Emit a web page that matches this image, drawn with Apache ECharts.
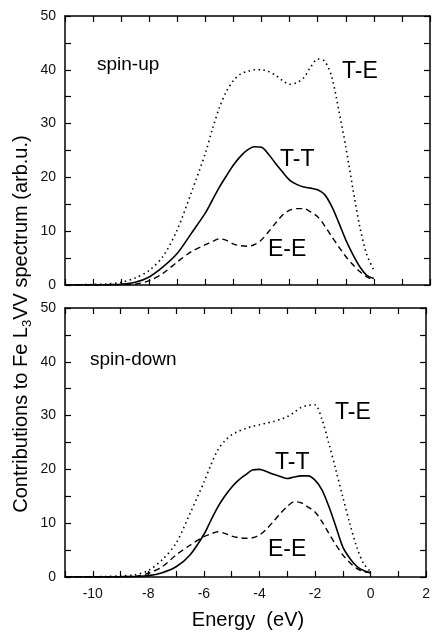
<!DOCTYPE html>
<html>
<head>
<meta charset="utf-8">
<script src="https://cdn.jsdelivr.net/npm/echarts@6/dist/echarts.min.js"></script>
<style>
  html, body { margin: 0; padding: 0; background: #fff; }
  #root { width: 433px; height: 635px; }
</style>
</head>
<body>
<div id="root"></div>
<script>
// energy grid (eV), shared by all curves
const energy = [-11, -10, -9.5, -9, -8.5, -8, -7.5, -7, -6.5, -6, -5.75, -5.5, -5.25, -5, -4.75, -4.5, -4.25,
  -4, -3.75, -3.5, -3.25, -3, -2.75, -2.5, -2.25, -2, -1.75, -1.5, -1.25, -1, -0.75, -0.5, -0.25, 0]

// spin-up panel
const upTE = [0, 0.1, 0.2, 0.5, 1.3, 2.7, 5.4, 10.3, 17.2, 24.5, 29.0, 33.0, 36.0, 38.0, 39.2, 39.7, 40.0,
  40.0, 39.7, 39.0, 38.0, 37.3, 37.6, 38.5, 40.5, 42.0, 41.6, 38.7, 32.5, 25.7, 18.0, 10.8, 5.6, 2.8]
const upTT = [0, 0, 0.05, 0.15, 0.5, 1.5, 3.4, 5.9, 9.6, 13.4, 15.8, 18.2, 20.3, 22.3, 23.9, 25.1, 25.7,
  25.6, 24.3, 22.6, 21.0, 19.5, 18.7, 18.2, 18.0, 17.7, 16.8, 14.6, 11.6, 8.4, 5.7, 3.4, 1.8, 1.2]
const upEE = [0, 0, 0, 0.05, 0.15, 0.8, 2.2, 4.3, 6.2, 7.5, 8.1, 8.6, 8.3, 7.6, 7.3, 7.2, 7.5,
  8.4, 9.9, 11.5, 13.0, 13.9, 14.2, 14.2, 13.6, 12.7, 11.0, 9.0, 7.1, 5.3, 3.8, 2.5, 1.5, 0.9]

// spin-down panel
const downTE = [0, 0.05, 0.1, 0.2, 0.4, 1.2, 3.2, 6.3, 11.8, 17.6, 20.8, 23.6, 25.3, 26.4, 27.1, 27.6, 28.0,
  28.3, 28.6, 28.9, 29.3, 29.8, 30.6, 31.5, 31.9, 32.0, 29.3, 24.8, 19.9, 14.9, 10.0, 5.6, 2.5, 1.0]
const downTT = [0, 0, 0, 0.05, 0.1, 0.25, 0.8, 1.9, 4.1, 7.9, 10.5, 13.0, 15.0, 16.7, 18.0, 19.0, 19.9,
  20.0, 19.6, 19.1, 18.7, 18.3, 18.6, 18.8, 18.8, 18.0, 16.2, 13.1, 9.4, 5.6, 3.5, 2.0, 1.2, 0.8]
const downEE = [0, 0, 0, 0.02, 0.1, 0.7, 1.9, 4.1, 5.9, 7.5, 8.0, 8.4, 8.1, 7.6, 7.3, 7.2, 7.3,
  7.8, 8.9, 10.3, 11.8, 13.1, 14.0, 13.8, 13.0, 12.1, 10.3, 8.1, 6.0, 4.1, 2.7, 1.6, 1.0, 0.8]

const xTicks = { min: -11, max: 2, interval: 1 }
const yTicks = { min: 0, max: 50, interval: 5 }

const FONT = 'Liberation Sans, Arial, sans-serif'
const pairs = (ys) => energy.map((x, i) => [x, ys[i]])

const chart = echarts.init(document.getElementById('root'), null, { renderer: 'canvas' })

const axisBase = {
  axisLine: { show: true, onZero: false, lineStyle: { color: '#000', width: 1.5 } },
  axisTick: { show: true, inside: true, length: 6, lineStyle: { color: '#000', width: 1.2 } },
  splitLine: { show: false }
}

function xAxis(grid, position, labels) {
  return Object.assign({}, axisBase, {
    type: 'value', gridIndex: grid, position: position,
    min: xTicks.min, max: xTicks.max, interval: xTicks.interval,
    axisLabel: {
      show: labels, color: '#111', fontSize: 14, fontFamily: FONT, margin: 10,
      formatter: v => (v % 2 === 0 ? String(v) : '')
    }
  })
}

function yAxis(grid, position, labels) {
  return Object.assign({}, axisBase, {
    type: 'value', gridIndex: grid, position: position,
    min: yTicks.min, max: yTicks.max, interval: yTicks.interval,
    axisLabel: {
      show: labels, color: '#111', fontSize: 14, fontFamily: FONT, margin: 9,
      formatter: v => (v % 10 === 0 ? String(v) : '')
    }
  })
}

const styles = {
  TE: { type: [1.5, 3.5], width: 1.6 },
  TT: { type: 'solid', width: 1.6 },
  EE: { type: [6, 4], width: 1.4 }
}

function line(grid, ys, st) {
  return {
    type: 'line', xAxisIndex: grid * 2, yAxisIndex: grid * 2,
    data: pairs(ys), showSymbol: false, smooth: 0.3, silent: true,
    lineStyle: { color: '#000', width: st.width, type: st.type }
  }
}

function label(text, x, y, size) {
  return {
    type: 'text', x: x, y: y,
    style: { text: text, fill: '#000', font: size + 'px ' + FONT, verticalAlign: 'middle' }
  }
}

const option = {
  animation: false,
  grid: [
    { left: 65, right: 3, top: 16, height: 269 },
    { left: 65, right: 3, top: 308, height: 269 }
  ],
  xAxis: [
    xAxis(0, 'bottom', false), xAxis(0, 'top', false),
    xAxis(1, 'bottom', true), xAxis(1, 'top', false)
  ],
  yAxis: [
    yAxis(0, 'left', true), yAxis(0, 'right', false),
    yAxis(1, 'left', true), yAxis(1, 'right', false)
  ],
  series: [
    line(0, upTE, styles.TE), line(0, upTT, styles.TT), line(0, upEE, styles.EE),
    line(1, downTE, styles.TE), line(1, downTT, styles.TT), line(1, downEE, styles.EE)
  ],
  graphic: [
    label('spin-up', 97, 65, 19),
    label('T-E', 342, 72, 23),
    label('T-T', 280, 160, 23),
    label('E-E', 268, 250, 23),
    label('spin-down', 90, 360, 19),
    label('T-E', 335, 413, 23),
    label('T-T', 275, 463, 23),
    label('E-E', 268, 550, 23),
    {
      type: 'text', x: 21, y: 324, rotation: Math.PI / 2,
      style: {
        text: '{a|Contributions to Fe L}{s|3}{a|VV spectrum (arb.u.)}',
        align: 'center', verticalAlign: 'middle',
        rich: {
          a: { fontSize: 20, fontFamily: FONT, fill: '#000', color: '#000' },
          s: { fontSize: 13, fontFamily: FONT, fill: '#000', color: '#000', padding: [12, 0, 0, 0] }
        }
      }
    },
    {
      type: 'text', x: 248, y: 620,
      style: { text: 'Energy  (eV)', fill: '#000', font: '20px ' + FONT, align: 'center', verticalAlign: 'middle' }
    }
  ]
}

chart.setOption(option)
</script>
</body>
</html>
